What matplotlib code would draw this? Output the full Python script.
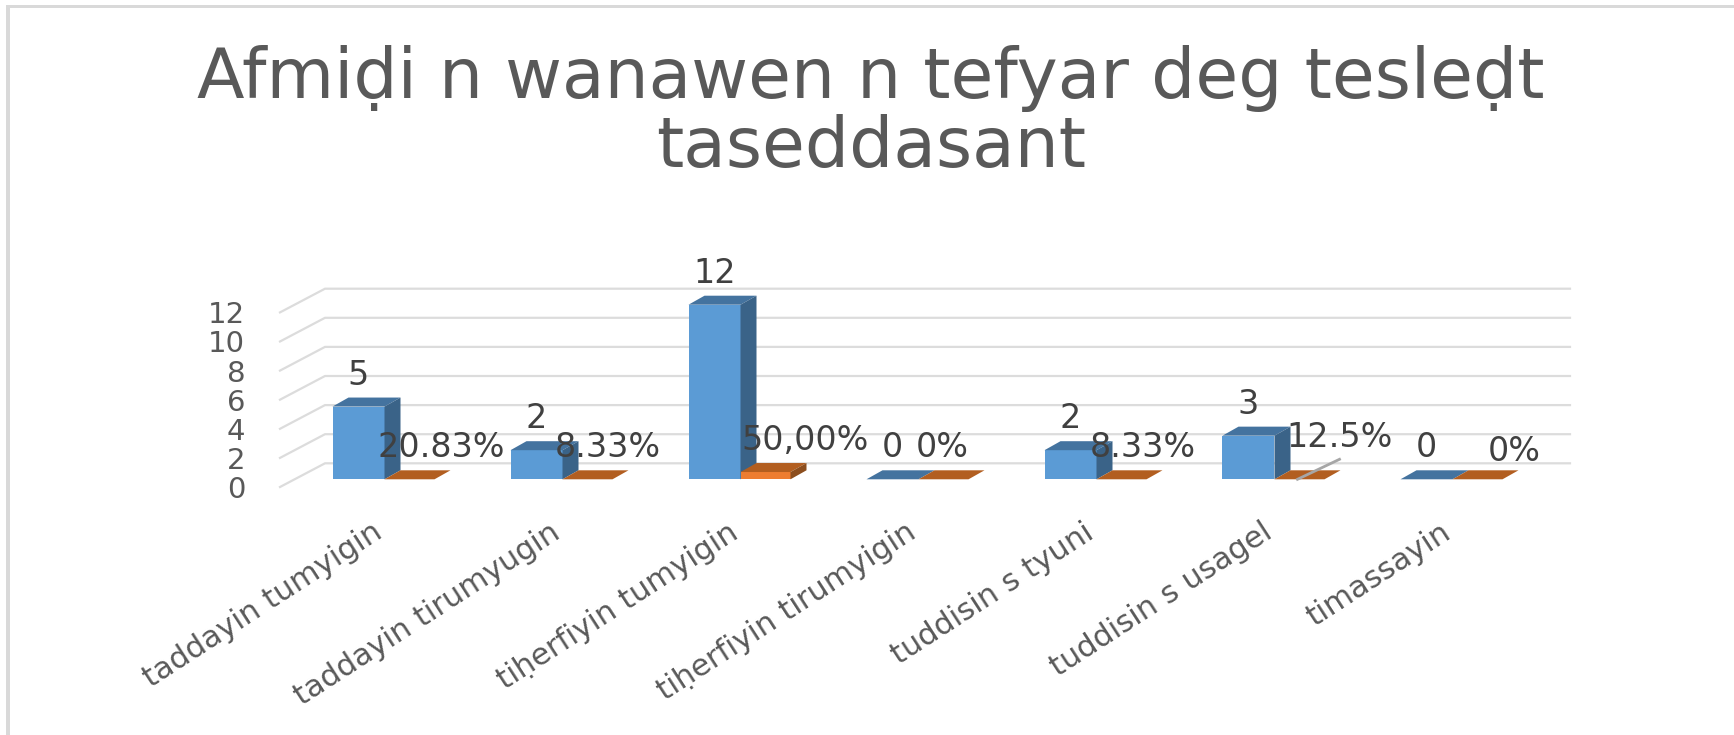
import numpy as np
import matplotlib
matplotlib.use('Agg')
import matplotlib.pyplot as plt
from matplotlib.patches import Polygon, Rectangle
from matplotlib.transforms import ScaledTranslation

categories = ['taddayin tumyigin', 'taddayin tirumyugin', 'tiḥerfiyin tumyigin', 'tiḥerfiyin tirumyigin',
              'tuddisin s tyuni', 'tuddisin s usagel', 'timassayin']
counts = [5, 2, 12, 0, 2, 3, 0]
# only the 50% bar has a visible height in the picture, the others lie flat
shares = [0, 0, 0.50, 0, 0, 0, 0]
count_labels = ['5', '2', '12', '0', '2', '3', '0']
share_labels = ['20.83%', '8.33%', '50,00%', '0%', '8.33%', '12.5%', '0%']
grid_values = [0, 2, 4, 6, 8, 10, 12]
title = 'Afmiḍi n wanawen n tefyar deg tesleḍt\ntaseddasant'

W, H = 1734, 735
GREY = '#595959'
TXT = '#404040'
PX_X = 178.0    # pixels per category
PX_Y = 14.55    # pixels per unit

plt.rcParams['font.family'] = ['DejaVu Sans']

fig = plt.figure(figsize=(W / 100, H / 100), dpi=100)
left, right, top, bottom = 280, 1570, 280, 487
ax = fig.add_axes([left / W, 1 - bottom / H, (right - left) / W, (bottom - top) / H])
ax.set_xlim((left - 384.5) / PX_X, (right - 384.5) / PX_X)
ax.set_ylim(-(bottom - 479.3) / PX_Y, (479.3 - top) / PX_Y)
ax.patch.set_alpha(0)
for s in ax.spines.values():
    s.set_visible(False)

# outer frame, only top and left are visible in the screenshot
fig.add_artist(Rectangle((6 / W, 1 - 8 / H), (W - 6) / W, 3 / H, transform=fig.transFigure, color='#d9d9d9', lw=0))
fig.add_artist(Rectangle((6 / W, 0), 4 / W, 1 - 5 / H, transform=fig.transFigure, color='#d9d9d9', lw=0))

fig.text(871 / W, 1 - 78 / H, title.split('\n')[0], ha='center', va='center', fontsize=50, color=GREY)
fig.text(871 / W, 1 - 148 / H, title.split('\n')[1], ha='center', va='center', fontsize=50, color=GREY)

x = np.arange(len(categories))
x0, x1 = ax.get_xlim()
front_shift = -(487 - 479.3) / PX_Y
back_shift = (479.3 - 463.3) / PX_Y
grid_dx = 45 / PX_X

for v in grid_values:
    ax.plot([x0, x0 + grid_dx, x1], [v + front_shift, v + back_shift, v + back_shift],
            color='#dcdcdc', lw=1.6, zorder=1, clip_on=False)

ax.set_yticks(np.array(grid_values) + front_shift, labels=grid_values, fontsize=21, color=GREY)
ax.set_xticks(x, labels=categories, fontsize=22, color=GREY, rotation=33, ha='right', rotation_mode='anchor')
ax.tick_params(axis='y', length=0, pad=25)
ax.tick_params(axis='x', length=0, pad=22)
for lab in ax.get_xticklabels():
    lab.set_transform(lab.get_transform() + ScaledTranslation(-0.13, 0, fig.dpi_scale_trans))

depth_x = 16 / PX_X
depth_y = 9 / PX_Y


def bars_3d(lefts, values, width, front, top_c, side):
    ax.bar(lefts, values, width, align='edge', color=front, zorder=3)
    for l, v in zip(lefts, values):
        ax.add_patch(Polygon([(l, v), (l + width, v), (l + width + depth_x, v + depth_y), (l + depth_x, v + depth_y)],
                             color=top_c, lw=0, zorder=3))
        if v > 0:
            ax.add_patch(Polygon([(l + width, 0), (l + width + depth_x, depth_y),
                                  (l + width + depth_x, v + depth_y), (l + width, v)],
                                 color=side, lw=0, zorder=3))


blue_w = 52 / PX_X
orange_w = 50 / PX_X
bars_3d(x - blue_w, counts, blue_w, '#5b9bd5', '#44739f', '#3a6388')
bars_3d(x, shares, orange_w, '#ed7d31', '#b25e20', '#8c4e1e')

for i, t in enumerate(count_labels):
    ax.annotate(t, (x[i] - blue_w / 2, counts[i]), xytext=(0, 31.5), textcoords='offset pixels',
                ha='center', va='center', fontsize=24, color=TXT, zorder=5)

share_dx = [32, 20, 40, -1, 21, 40, 37]
share_dy = [32, 32, 32, 32, 32, 42, 28]
for i, t in enumerate(share_labels):
    ax.annotate(t, (x[i] + orange_w / 2, shares[i]), xytext=(share_dx[i], share_dy[i]), textcoords='offset pixels',
                ha='center', va='center', fontsize=24, color=TXT, zorder=5)

# leader line of the 12.5% label
ax.plot([x[5] + 23 / PX_X, x[5] + 65 / PX_X], [0, 20 / PX_Y], color='#a6a6a6', lw=2, zorder=4)

fig.savefig('out.png', dpi=100)
